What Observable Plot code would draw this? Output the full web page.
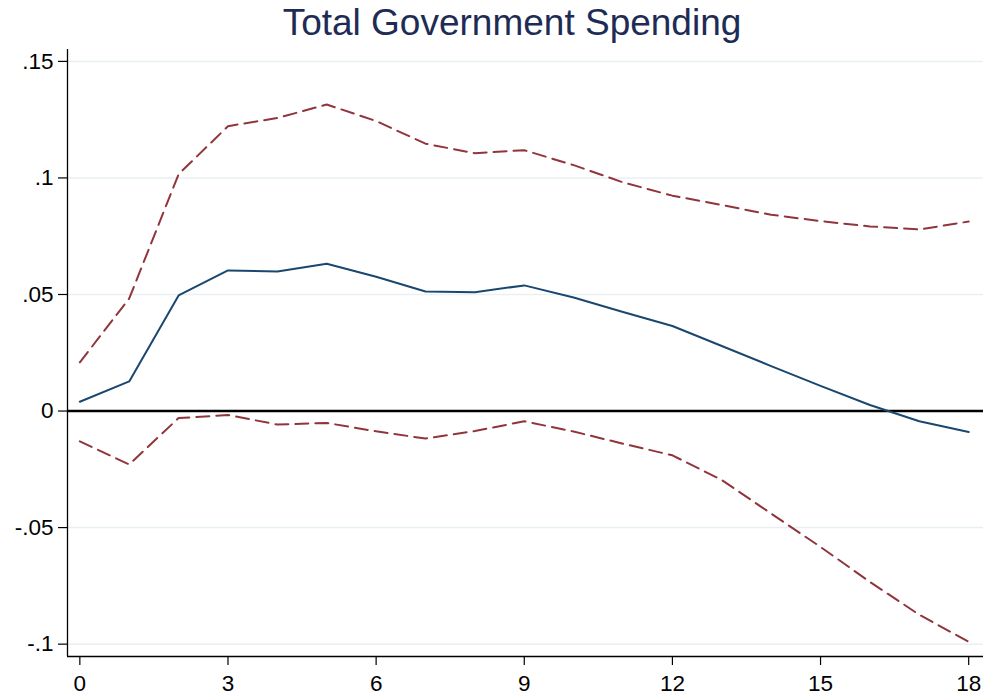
<!DOCTYPE html>
<html>
<head>
<meta charset="utf-8">
<script src="https://cdn.jsdelivr.net/npm/d3@7"></script>
<script src="https://cdn.jsdelivr.net/npm/@observablehq/plot@0.6"></script>
<style>
  html, body { margin: 0; padding: 0; background: #fff; }
  #title {
    width: 944px; height: 48px; padding-left: 40px;
    text-align: center; font-family: "Liberation Sans", Arial, sans-serif;
    font-size: 37px; line-height: 46px; color: #1e2c55;
    white-space: nowrap; overflow: hidden;
  }
</style>
</head>
<body>
<div id="title">Total Government Spending</div>
<div id="chart"></div>
<script>
const titleText = "Total Government Spending";
const steps = [0,1,2,3,4,5,6,7,8,9,10,11,12,13,14,15,16,17,18];
const irf   = [0.0040,0.0127,0.0496,0.0603,0.0599,0.0632,0.0576,0.0513,0.0510,0.0539,0.0487,0.0425,0.0365,0.0279,0.0193,0.0108,0.0026,-0.0044,-0.0090];
const upper = [0.0209,0.0483,0.1016,0.1222,0.1257,0.1315,0.1244,0.1147,0.1106,0.1119,0.1055,0.0981,0.0924,0.0884,0.0842,0.0815,0.0792,0.0779,0.0813];
const lower = [-0.0130,-0.0229,-0.0030,-0.0017,-0.0058,-0.0051,-0.0087,-0.0118,-0.0086,-0.0044,-0.0088,-0.0140,-0.0190,-0.0296,-0.0440,-0.0583,-0.0733,-0.0874,-0.0990];
const xTicks = [0,3,6,9,12,15,18];
const yTicks = [-0.1,-0.05,0,0.05,0.1,0.15];
const yGrid  = [-0.1,-0.05,0.05,0.1,0.15];

const data = steps.map((s, i) => ({step: s, irf: irf[i], upper: upper[i], lower: lower[i]}));
const xDom = [-0.25, 18.3];
const yDom = [-0.1053, 0.1551];
const fmt = d => d === 0 ? "0" : String(d).replace("0.", ".");

const chart = Plot.plot({
  width: 984,
  height: 650,
  marginTop: 1,
  marginLeft: 67,
  marginRight: 1,
  marginBottom: 42,
  x: {domain: xDom},
  y: {domain: yDom},
  style: {fontFamily: "'Liberation Sans', Arial, sans-serif", fontSize: "22px", color: "#000", background: "#fff"},
  marks: [
    Plot.gridY(yGrid, {stroke: "#e8f0f2", strokeOpacity: 1, strokeWidth: 1.5}),
    Plot.ruleY([0], {stroke: "#000", strokeWidth: 2.4}),
    Plot.line(data, {x: "step", y: "upper", stroke: "#90353b", strokeWidth: 2, strokeDasharray: "13,7"}),
    Plot.line(data, {x: "step", y: "lower", stroke: "#90353b", strokeWidth: 2, strokeDasharray: "13,7"}),
    Plot.line(data, {x: "step", y: "irf", stroke: "#1a476f", strokeWidth: 2}),
    Plot.axisY(yTicks, {tickSize: 9, tickPadding: 5, tickFormat: fmt, label: null, fontSize: 22.5, strokeWidth: 1.2}),
    Plot.axisX(xTicks, {tickSize: 9, tickPadding: 10, label: null, fontSize: 22.5, strokeWidth: 1.2}),
    Plot.ruleX([xDom[0]], {stroke: "#000", strokeWidth: 1.3}),
    Plot.ruleY([yDom[0]], {stroke: "#000", strokeWidth: 1.3})
  ]
});
document.getElementById("chart").appendChild(chart);
</script>
</body>
</html>
